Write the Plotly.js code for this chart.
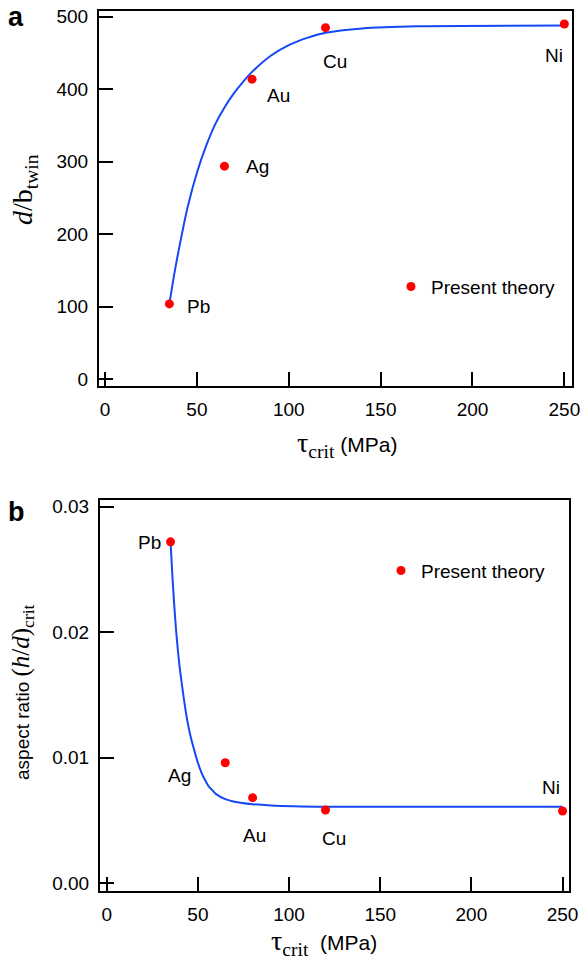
<!DOCTYPE html>
<html>
<head>
<meta charset="utf-8">
<script src="https://cdn.plot.ly/plotly-3.0.1.min.js"></script>
<style>html,body{margin:0;padding:0;background:#fff;}#chart{width:585px;height:971px;}</style>
</head>
<body>
<div id="chart"></div>
<script>
// ---------- data ----------
var metals = ['Pb', 'Ag', 'Au', 'Cu', 'Ni'];
var tauCrit = [35, 65, 80, 120, 250];
// panel a: d/b_twin
var dbTwin = [104, 294, 414, 485, 490];
var curveA_x = [35, 38, 41, 45, 50, 55, 60, 65, 70, 75, 80, 90, 100, 110, 120, 140, 170, 250];
var curveA_y = [104, 150, 190, 238, 285, 322, 352, 375, 394, 410, 424, 446, 461, 471, 478, 484, 487, 488];
// panel b: aspect ratio (h/d)_crit
var aspect = [0.0272, 0.0096, 0.00682, 0.00584, 0.00576];
var curveB_x = [35, 36, 37, 38, 39, 40, 42, 44, 46, 48, 50, 52, 54, 56, 58, 60, 65, 70, 80, 90, 120, 250];
var curveB_y = [0.0272, 0.0245, 0.0222, 0.0202, 0.0186, 0.0172, 0.0150, 0.0131, 0.0117, 0.0106, 0.0096, 0.0088, 0.0082, 0.0077, 0.0074, 0.0071, 0.0067, 0.0065, 0.0063, 0.0062, 0.0061, 0.0061];
// label positions (data coords)
var labA_x = [50.7, 82.8, 94.2, 125.3, 244.6];
var labA_y = [101, 293, 392, 439, 446];
var labB_x = [23.7, 39.9, 81.3, 124.9, 243.9];
var labB_y = [0.02717, 0.00862, 0.00378, 0.00354, 0.00767];
var legendText = 'Present theory';

var W = 585, H = 971;
function px(x){return x/W;}
function py(y){return 1 - y/H;}

var SANS = 'Liberation Sans, Arial, sans-serif';
var SERIF = 'Liberation Serif';
var blue = 'rgb(22,72,245)';

var traces = [
  {x: curveA_x, y: curveA_y, xaxis:'x', yaxis:'y', mode:'lines', line:{color:blue, width:2, shape:'spline', smoothing:0.6}, showlegend:false, hoverinfo:'skip'},
  {x: tauCrit, y: dbTwin, xaxis:'x', yaxis:'y', mode:'markers', marker:{color:'#ff0000', size:9}, name: legendText, legend:'legend', showlegend:true},
  {x: curveB_x, y: curveB_y, xaxis:'x2', yaxis:'y2', mode:'lines', line:{color:blue, width:2, shape:'spline', smoothing:0.6}, showlegend:false, hoverinfo:'skip'},
  {x: tauCrit, y: aspect, xaxis:'x2', yaxis:'y2', mode:'markers', marker:{color:'#ff0000', size:9}, name: legendText, legend:'legend2', showlegend:true}
];

function axisCommon(){
  return {showline:true, linecolor:'#000', linewidth:2, mirror:true, ticks:'inside', ticklen:14, tickwidth:2, tickcolor:'#000',
          showgrid:false, zeroline:false, tickfont:{family:SANS, size:19, color:'#000'}, ticklabelstandoff:5};
}
var xa = Object.assign(axisCommon(), {domain:[px(99), px(571.7)], range:[-3.3, 254], tick0:0, dtick:50, anchor:'y'});
var ya = Object.assign(axisCommon(), {domain:[py(386), py(11)], range:[-9.2, 508], tick0:0, dtick:100, anchor:'x'});
var xb = Object.assign(axisCommon(), {domain:[px(100), px(569.3)], range:[-3.7, 253.7], tick0:0, dtick:50, anchor:'y2'});
var yb = Object.assign(axisCommon(), {domain:[py(890.7), py(500)], range:[-0.00059, 0.03053], tick0:0, dtick:0.01, tickformat:'.2f', anchor:'x2'});

var annotations = [];
for (var i = 0; i < metals.length; i++) {
  annotations.push({x: labA_x[i], y: labA_y[i], xref:'x', yref:'y', text: metals[i], showarrow:false, xanchor:'center', yanchor:'middle', font:{family:SANS, size:19, color:'#000'}});
  annotations.push({x: labB_x[i], y: labB_y[i], xref:'x2', yref:'y2', text: metals[i], showarrow:false, xanchor:'center', yanchor:'middle', font:{family:SANS, size:19, color:'#000'}});
}
// panel letters
annotations.push({x: px(16), y: py(17), xref:'paper', yref:'paper', text:'<b>a</b>', showarrow:false, xanchor:'center', yanchor:'middle', font:{family:SANS, size:27, color:'#000'}});
annotations.push({x: px(16.5), y: py(512), xref:'paper', yref:'paper', text:'<b>b</b>', showarrow:false, xanchor:'center', yanchor:'middle', font:{family:SANS, size:27, color:'#000'}});
// axis titles
annotations.push({x: px(347), y: py(445), xref:'paper', yref:'paper', showarrow:false, xanchor:'center', yanchor:'middle',
  text:'<span style="font-family:' + SERIF + ';font-size:28px">τ<sub>crit</sub></span> (MPa)', font:{family:SANS, size:21, color:'#000'}});
annotations.push({x: px(324), y: py(942), xref:'paper', yref:'paper', showarrow:false, xanchor:'center', yanchor:'middle',
  text:'<span style="font-family:' + SERIF + ';font-size:28px">τ<sub>crit</sub></span>\u00a0\u00a0(MPa)', font:{family:SANS, size:21, color:'#000'}});
annotations.push({x: px(25), y: py(190), xref:'paper', yref:'paper', showarrow:false, xanchor:'center', yanchor:'middle', textangle:-90,
  text:'<span style="font-family:' + SERIF + ';font-size:28px"><i>d</i>/b<sub>twin</sub></span>', font:{family:SERIF, size:28, color:'#000'}});
annotations.push({x: px(22), y: py(692), xref:'paper', yref:'paper', showarrow:false, xanchor:'center', yanchor:'middle', textangle:-90,
  text:'aspect ratio <span style="font-family:' + SERIF + ';font-size:25px">(<i>h</i>/<i>d</i>)<sub>crit</sub></span>', font:{family:SANS, size:19, color:'#000'}});

var legendCommon = {xanchor:'left', yanchor:'middle', bgcolor:'rgba(0,0,0,0)', borderwidth:0, font:{family:SANS, size:19, color:'#000'}, itemwidth:30};

var layout = {
  width: W, height: H, autosize:false,
  margin:{l:0, r:0, t:0, b:0, pad:0},
  paper_bgcolor:'#fff', plot_bgcolor:'#fff',
  font:{family:SANS, color:'#000'},
  xaxis: xa, yaxis: ya, xaxis2: xb, yaxis2: yb,
  showlegend:true,
  legend: Object.assign({x: px(391), y: py(286.7)}, legendCommon),
  legend2: Object.assign({x: px(381), y: py(570.7)}, legendCommon),
  annotations: annotations
};

Plotly.newPlot('chart', traces, layout, {staticPlot:true, displayModeBar:false});
</script>
</body>
</html>
